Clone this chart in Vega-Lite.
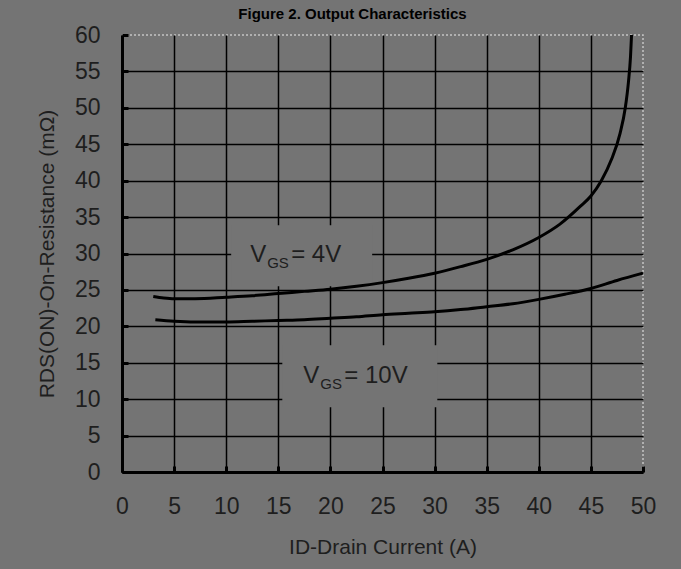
{
  "$schema": "https://vega.github.io/schema/vega-lite/v6.json",
  "width": 521,
  "height": 437,
  "autosize": {"type": "none"},
  "padding": {"left": 122, "top": 35, "right": 38, "bottom": 97},
  "background": "#747474",
  "title": {
    "text": "Figure 2. Output Characteristics",
    "fontSize": 15,
    "fontWeight": "bold",
    "color": "black",
    "font": "Liberation Sans",
    "anchor": "middle",
    "dx": -30,
    "offset": -10,
    "baseline": "alphabetic"
  },
  "config": {
    "view": {"stroke": "#c4c4c4", "strokeDash": [2, 2], "strokeWidth": 1.5},
    "axis": {
      "domainColor": "black",
      "domainWidth": 3,
      "gridColor": "black",
      "gridWidth": 1.5,
      "tickColor": "black",
      "tickWidth": 3,
      "tickSize": -6,
      "labelFont": "Liberation Sans",
      "labelFontSize": 23,
      "labelColor": "#1e1e1e",
      "labelOverlap": false,
      "labelFlush": false,
      "titleFont": "Liberation Sans",
      "titleFontSize": 21,
      "titleFontWeight": "normal",
      "titleColor": "#1e1e1e"
    }
  },
  "datasets": {
    "curves": [
      {"vgs": "4V", "id": 3.0, "r": 24.1},
      {"vgs": "4V", "id": 4.0, "r": 23.9},
      {"vgs": "4V", "id": 5.0, "r": 23.8},
      {"vgs": "4V", "id": 7.0, "r": 23.8},
      {"vgs": "4V", "id": 10.0, "r": 24.0},
      {"vgs": "4V", "id": 12.5, "r": 24.2},
      {"vgs": "4V", "id": 15.0, "r": 24.5},
      {"vgs": "4V", "id": 17.5, "r": 24.8},
      {"vgs": "4V", "id": 20.0, "r": 25.1},
      {"vgs": "4V", "id": 22.5, "r": 25.5},
      {"vgs": "4V", "id": 25.0, "r": 26.0},
      {"vgs": "4V", "id": 27.5, "r": 26.6},
      {"vgs": "4V", "id": 30.0, "r": 27.3},
      {"vgs": "4V", "id": 32.5, "r": 28.2},
      {"vgs": "4V", "id": 35.0, "r": 29.2},
      {"vgs": "4V", "id": 37.5, "r": 30.5},
      {"vgs": "4V", "id": 40.0, "r": 32.2},
      {"vgs": "4V", "id": 42.0, "r": 34.0},
      {"vgs": "4V", "id": 44.0, "r": 36.5},
      {"vgs": "4V", "id": 45.0, "r": 37.9},
      {"vgs": "4V", "id": 46.0, "r": 40.0},
      {"vgs": "4V", "id": 47.0, "r": 43.0},
      {"vgs": "4V", "id": 47.8, "r": 46.5},
      {"vgs": "4V", "id": 48.3, "r": 50.0},
      {"vgs": "4V", "id": 48.6, "r": 53.5},
      {"vgs": "4V", "id": 48.8, "r": 57.0},
      {"vgs": "4V", "id": 48.9, "r": 60.0},
      {"vgs": "10V", "id": 3.2, "r": 20.9},
      {"vgs": "10V", "id": 5.0, "r": 20.7},
      {"vgs": "10V", "id": 7.0, "r": 20.6},
      {"vgs": "10V", "id": 10.0, "r": 20.6},
      {"vgs": "10V", "id": 12.5, "r": 20.7},
      {"vgs": "10V", "id": 15.0, "r": 20.8},
      {"vgs": "10V", "id": 17.5, "r": 20.9},
      {"vgs": "10V", "id": 20.0, "r": 21.1},
      {"vgs": "10V", "id": 22.5, "r": 21.3},
      {"vgs": "10V", "id": 25.0, "r": 21.6},
      {"vgs": "10V", "id": 27.5, "r": 21.8},
      {"vgs": "10V", "id": 30.0, "r": 22.0},
      {"vgs": "10V", "id": 32.5, "r": 22.3},
      {"vgs": "10V", "id": 35.0, "r": 22.7},
      {"vgs": "10V", "id": 37.5, "r": 23.1},
      {"vgs": "10V", "id": 40.0, "r": 23.7},
      {"vgs": "10V", "id": 42.5, "r": 24.4},
      {"vgs": "10V", "id": 45.0, "r": 25.2},
      {"vgs": "10V", "id": 47.5, "r": 26.3},
      {"vgs": "10V", "id": 50.0, "r": 27.3}
    ],
    "labels": [
      {"key": "4V", "x": 12.3, "y": 28.8, "v": "V", "sub": "GS", "rest": "= 4V"},
      {"key": "10V", "x": 17.4, "y": 12.2, "v": "V", "sub": "GS", "rest": "= 10V"}
    ]
  },
  "encoding": {
    "x": {"type": "quantitative", "scale": {"domain": [0, 50], "nice": false},
      "axis": {"values": [0, 5, 10, 15, 20, 25, 30, 35, 40, 45, 50], "labelPadding": 29, "titlePadding": 18,
        "gridColor": {"condition": {"test": "datum.value == 50", "value": "transparent"}, "value": "black"},
        "title": "ID-Drain Current (A)"}},
    "y": {"type": "quantitative", "scale": {"domain": [0, 60], "nice": false},
      "axis": {"values": [0, 5, 10, 15, 20, 25, 30, 35, 40, 45, 50, 55, 60], "labelPadding": 28, "titlePadding": 17,
        "gridColor": {"condition": {"test": "datum.value == 60", "value": "transparent"}, "value": "black"},
        "title": "RDS(ON)-On-Resistance (mΩ)"}}
  },
  "layer": [
    {
      "data": {"name": "labels"},
      "transform": [{"filter": "datum.key == '4V'"}],
      "mark": {"type": "rect", "fill": "#747474", "xOffset": -19, "x2Offset": 122, "yOffset": -37, "y2Offset": 24},
      "encoding": {
        "x": {"field": "x", "type": "quantitative"},
        "x2": {"field": "x"},
        "y": {"field": "y", "type": "quantitative"},
        "y2": {"field": "y"}
      }
    },
    {
      "data": {"name": "labels"},
      "transform": [{"filter": "datum.key == '10V'"}],
      "mark": {"type": "rect", "fill": "#747474", "xOffset": -21, "x2Offset": 134, "yOffset": -38, "y2Offset": 24},
      "encoding": {
        "x": {"field": "x", "type": "quantitative"},
        "x2": {"field": "x"},
        "y": {"field": "y", "type": "quantitative"},
        "y2": {"field": "y"}
      }
    },
    {
      "data": {"name": "curves"},
      "mark": {"type": "line", "color": "black", "strokeWidth": 3, "interpolate": "monotone"},
      "encoding": {
        "x": {"field": "id", "type": "quantitative"},
        "y": {"field": "r", "type": "quantitative"},
        "detail": {"field": "vgs"}
      }
    },
    {
      "data": {"name": "labels"},
      "mark": {"type": "text", "align": "left", "baseline": "alphabetic", "font": "Liberation Sans", "fontSize": 24, "color": "#1e1e1e"},
      "encoding": {
        "x": {"field": "x", "type": "quantitative"},
        "y": {"field": "y", "type": "quantitative"},
        "text": {"field": "v"}
      }
    },
    {
      "data": {"name": "labels"},
      "mark": {"type": "text", "align": "left", "baseline": "alphabetic", "font": "Liberation Sans", "fontSize": 15, "color": "#1e1e1e", "dx": 17, "dy": 6},
      "encoding": {
        "x": {"field": "x", "type": "quantitative"},
        "y": {"field": "y", "type": "quantitative"},
        "text": {"field": "sub"}
      }
    },
    {
      "data": {"name": "labels"},
      "mark": {"type": "text", "align": "left", "baseline": "alphabetic", "font": "Liberation Sans", "fontSize": 24, "color": "#1e1e1e", "dx": 41},
      "encoding": {
        "x": {"field": "x", "type": "quantitative"},
        "y": {"field": "y", "type": "quantitative"},
        "text": {"field": "rest"}
      }
    }
  ]
}
